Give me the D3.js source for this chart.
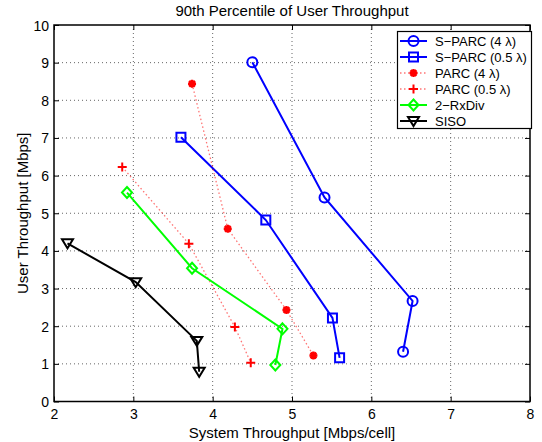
<!DOCTYPE html>
<html>
<head>
<meta charset="utf-8">
<script src="https://cdn.jsdelivr.net/npm/d3@7"></script>
<style>
  html, body { margin: 0; padding: 0; background: #fff; }
  svg { display: block; }
  text { font-family: "Liberation Sans", Arial, Helvetica, sans-serif; fill: #000; }
</style>
</head>
<body>
<svg id="chart" width="542" height="442"></svg>
<script>
// ---- data ----
const seriesNames = ["S\u2212PARC (4 \u03bb)", "S\u2212PARC (0.5 \u03bb)", "PARC (4 \u03bb)", "PARC (0.5 \u03bb)", "2\u2212RxDiv", "SISO"];
const sparc4X  = [4.50, 5.41, 6.52, 6.40];
const sparc4Y  = [9.01, 5.42, 2.67, 1.32];
const sparc05X = [3.60, 4.67, 5.51, 5.60];
const sparc05Y = [7.02, 4.82, 2.22, 1.16];
const parc4X   = [3.74, 4.19, 4.93, 5.27];
const parc4Y   = [8.44, 4.59, 2.43, 1.22];
const parc05X  = [2.86, 3.70, 4.28, 4.48];
const parc05Y  = [6.23, 4.19, 1.98, 1.03];
const rxdivX   = [2.92, 3.74, 4.88, 4.79];
const rxdivY   = [5.55, 3.54, 1.93, 0.97];
const sisoX    = [2.17, 3.03, 3.80, 3.83];
const sisoY    = [4.20, 3.17, 1.61, 0.79];
const xTicks = [2, 3, 4, 5, 6, 7, 8];
const yTicks = [0, 1, 2, 3, 4, 5, 6, 7, 8, 9, 10];
const titleText = "90th Percentile of User Throughput";
const xLabel = "System Throughput [Mbps/cell]";
const yLabel = "User Throughput [Mbps]";

// ---- styles ----
const styles = [
  {color: "#0000ff", marker: "circle",   dash: null,      width: 2},
  {color: "#0000ff", marker: "square",   dash: null,      width: 2},
  {color: "#ff0000", marker: "asterisk", dash: "1.5,2.5", width: 1.3, opacity: 0.55},
  {color: "#ff0000", marker: "plus",     dash: "1.5,2.5", width: 1.3, opacity: 0.55},
  {color: "#00ff00", marker: "diamond",  dash: null,      width: 2},
  {color: "#000000", marker: "tridown",  dash: null,      width: 2}
];
const xs = [sparc4X, sparc05X, parc4X, parc05X, rxdivX, sisoX];
const ys = [sparc4Y, sparc05Y, parc4Y, parc05Y, rxdivY, sisoY];
const series = seriesNames.map((n, i) => ({
  name: n, style: styles[i],
  pts: xs[i].map((x, j) => ({x: x, y: ys[i][j]}))
}));

const L = 54, R = 530, T = 25, B = 401.5;
const svg = d3.select("#chart");
const x = d3.scaleLinear().domain([2, 8]).range([L, R]);
const y = d3.scaleLinear().domain([0, 10]).range([B, T]);

// grid
const g = svg.append("g");
g.selectAll(".gx").data(xTicks.slice(1, -1)).join("line")
  .attr("x1", d => x(d)).attr("x2", d => x(d)).attr("y1", T).attr("y2", B)
  .attr("stroke", "#666").attr("stroke-width", 1).attr("stroke-dasharray", "1,3");
g.selectAll(".gy").data(yTicks.slice(1, -1)).join("line")
  .attr("y1", d => y(d)).attr("y2", d => y(d)).attr("x1", L).attr("x2", R)
  .attr("stroke", "#666").attr("stroke-width", 1).attr("stroke-dasharray", "1,3");

// axes
const fs = "14px";
const ax = svg.append("g").attr("transform", `translate(0,${B})`)
  .call(d3.axisBottom(x).tickValues(xTicks).tickFormat(d3.format("d")).tickSize(-5).tickPadding(8));
const ay = svg.append("g").attr("transform", `translate(${L},0)`)
  .call(d3.axisLeft(y).tickValues(yTicks).tickFormat(d3.format("d")).tickSize(-5).tickPadding(5));
const axT = svg.append("g").attr("transform", `translate(0,${T})`)
  .call(d3.axisTop(x).tickValues(xTicks).tickSize(-5).tickFormat(""));
const ayR = svg.append("g").attr("transform", `translate(${R},0)`)
  .call(d3.axisRight(y).tickValues(yTicks).tickSize(-5).tickFormat(""));
[ax, ay, axT, ayR].forEach(a => {
  a.select(".domain").remove();
  a.selectAll("line").attr("stroke", "#000").attr("stroke-width", 1);
  a.selectAll("text").style("font-size", fs).attr("fill", "#000")
    .style("font-family", '"Liberation Sans", Arial, Helvetica, sans-serif');
});
ay.selectAll("text").attr("dy", "0.36em");

svg.append("rect").attr("x", L).attr("y", T).attr("width", R - L).attr("height", B - T)
  .attr("fill", "none").attr("stroke", "#000").attr("stroke-width", 1.5);

// markers
function markerPath(type) {
  const p = d3.path();
  if (type === "circle") { p.moveTo(5, 0); p.arc(0, 0, 5, 0, 2 * Math.PI); }
  else if (type === "square") { p.rect(-4.5, -4.5, 9, 9); }
  else if (type === "asterisk") {
    const r = 4; const d = r * 0.72;
    p.moveTo(-r, 0); p.lineTo(r, 0); p.moveTo(0, -r); p.lineTo(0, r);
    p.moveTo(-d, -d); p.lineTo(d, d); p.moveTo(-d, d); p.lineTo(d, -d);
  }
  else if (type === "plus") { p.moveTo(-4.5, 0); p.lineTo(4.5, 0); p.moveTo(0, -4.5); p.lineTo(0, 4.5); }
  else if (type === "diamond") { p.moveTo(0, -5.5); p.lineTo(5, 0); p.lineTo(0, 5.5); p.lineTo(-5, 0); p.closePath(); }
  else if (type === "tridown") { p.moveTo(-5.5, -4); p.lineTo(5.5, -4); p.lineTo(0, 5); p.closePath(); }
  return p.toString();
}

const line = d3.line().x(d => x(d.x)).y(d => y(d.y));
const plot = svg.append("g");
series.forEach(s => {
  const st = s.style;
  plot.append("path").attr("d", line(s.pts)).attr("fill", "none")
    .attr("stroke", st.color).attr("stroke-width", st.width)
    .attr("stroke-dasharray", st.dash).attr("stroke-opacity", st.opacity || 1);
  plot.selectAll(null).data(s.pts).join("path")
    .attr("transform", d => `translate(${x(d.x)},${y(d.y)})`)
    .attr("d", markerPath(st.marker))
    .attr("fill", "none").attr("stroke", st.color)
    .attr("stroke-width", st.marker === "asterisk" ? 2.4 : 2);
});

// title & labels
svg.append("text").attr("x", (L + R) / 2).attr("y", 16).attr("text-anchor", "middle")
  .style("font-size", "15px").text(titleText);
svg.append("text").attr("x", (L + R) / 2).attr("y", 437.5).attr("text-anchor", "middle")
  .style("font-size", "15px").text(xLabel);
svg.append("text").attr("transform", `translate(28,${(T + B) / 2}) rotate(-90)`)
  .attr("text-anchor", "middle").style("font-size", "15px").text(yLabel);

// legend
const lg = svg.append("g");
lg.append("rect").attr("x", 397.5).attr("y", 31.5).attr("width", 134).attr("height", 97)
  .attr("fill", "#fff").attr("stroke", "#000").attr("stroke-width", 1.2);
series.forEach((s, i) => {
  const cy = 41 + i * 16;
  const st = s.style;
  lg.append("line").attr("x1", 400).attr("x2", 427).attr("y1", cy).attr("y2", cy)
    .attr("stroke", st.color).attr("stroke-width", st.width)
    .attr("stroke-dasharray", st.dash).attr("stroke-opacity", st.opacity || 1);
  lg.append("path").attr("transform", `translate(413.5,${cy})`).attr("d", markerPath(st.marker))
    .attr("fill", "none").attr("stroke", st.color)
    .attr("stroke-width", st.marker === "asterisk" ? 2.4 : 2);
  lg.append("text").attr("x", 435).attr("y", cy).attr("dy", "0.36em")
    .style("font-size", "13px").text(s.name);
});
</script>
</body>
</html>
